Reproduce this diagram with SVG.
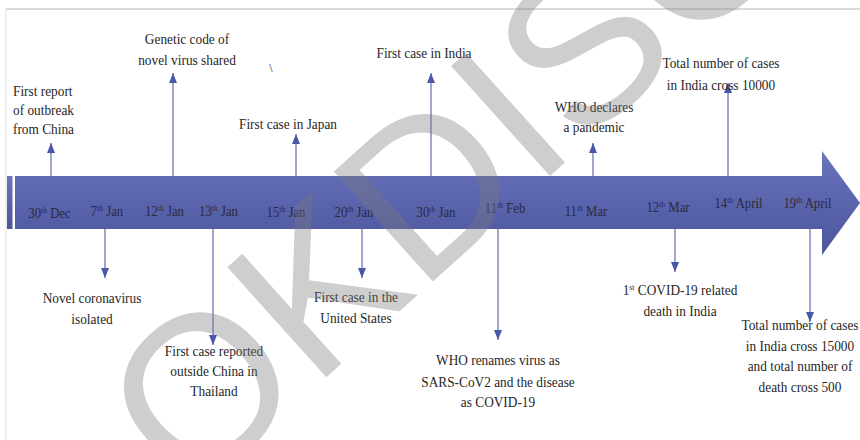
<svg xmlns="http://www.w3.org/2000/svg" width="860" height="440" viewBox="0 0 860 440">
<defs>
<linearGradient id="bodyGrad" x1="0" y1="0" x2="0" y2="1">
<stop offset="0" stop-color="#6b75bb"/>
<stop offset="0.5" stop-color="#5a64ad"/>
<stop offset="1" stop-color="#4b559e"/>
</linearGradient>
<marker id="ah" viewBox="0 0 10 8" markerWidth="10" markerHeight="8" refX="10" refY="4" orient="auto" markerUnits="userSpaceOnUse">
<path d="M0,0 L10,4 L0,8 z" fill="#4a58a8"/>
</marker>
<style>
.lbl{font-family:"Liberation Serif","Times New Roman",serif;font-size:15.5px;fill:#262626;text-anchor:middle}
.lft{text-anchor:start}
.date{font-family:"Liberation Serif","Times New Roman",serif;font-size:15px;fill:#2a2a3a;text-anchor:middle}
.sup{font-size:9px}
.con{stroke:#6e76b6;stroke-width:1.3;fill:none;marker-end:url(#ah)}
.wm{font-family:"Liberation Sans",Arial,sans-serif;font-size:215px;fill:#7a7a7a;opacity:0.36}
</style>
</defs>
<rect x="0" y="0" width="860" height="440" fill="#ffffff"/>
<line x1="6" y1="9" x2="860" y2="9" stroke="#b5b5b5" stroke-width="1"/>
<line x1="6" y1="9" x2="6" y2="440" stroke="#dedede" stroke-width="1"/>

<g id="timeline">
<rect x="7" y="176" width="5.5" height="53" fill="url(#bodyGrad)"/>
<path d="M15,176 L822,176 L822,151 L860,203 L822,255 L822,229 L15,229 z" fill="url(#bodyGrad)"/>
<g transform="translate(49.5,218) scale(0.85,1)"><text class="date" x="0" y="0">30<tspan class="sup" dy="-5">th</tspan><tspan dy="5"> Dec</tspan></text></g>
<g transform="translate(107,216) scale(0.85,1)"><text class="date" x="0" y="0">7<tspan class="sup" dy="-5">th</tspan><tspan dy="5"> Jan</tspan></text></g>
<g transform="translate(164.5,216) scale(0.85,1)"><text class="date" x="0" y="0">12<tspan class="sup" dy="-5">th</tspan><tspan dy="5"> Jan</tspan></text></g>
<g transform="translate(218.5,216) scale(0.85,1)"><text class="date" x="0" y="0">13<tspan class="sup" dy="-5">th</tspan><tspan dy="5"> Jan</tspan></text></g>
<g transform="translate(286,217) scale(0.85,1)"><text class="date" x="0" y="0">15<tspan class="sup" dy="-5">th</tspan><tspan dy="5"> Jan</tspan></text></g>
<g transform="translate(354,217) scale(0.85,1)"><text class="date" x="0" y="0">20<tspan class="sup" dy="-5">th</tspan><tspan dy="5"> Jan</tspan></text></g>
<g transform="translate(436,217) scale(0.85,1)"><text class="date" x="0" y="0">30<tspan class="sup" dy="-5">th</tspan><tspan dy="5"> Jan</tspan></text></g>
<g transform="translate(505,213) scale(0.85,1)"><text class="date" x="0" y="0">11<tspan class="sup" dy="-5">th</tspan><tspan dy="5"> Feb</tspan></text></g>
<g transform="translate(586,216) scale(0.85,1)"><text class="date" x="0" y="0">11<tspan class="sup" dy="-5">th</tspan><tspan dy="5"> Mar</tspan></text></g>
<g transform="translate(668,212) scale(0.85,1)"><text class="date" x="0" y="0">12<tspan class="sup" dy="-5">th</tspan><tspan dy="5"> Mar</tspan></text></g>
<g transform="translate(738.5,208) scale(0.85,1)"><text class="date" x="0" y="0">14<tspan class="sup" dy="-5">th</tspan><tspan dy="5"> April</tspan></text></g>
<g transform="translate(807.5,208) scale(0.85,1)"><text class="date" x="0" y="0">19<tspan class="sup" dy="-5">th</tspan><tspan dy="5"> April</tspan></text></g>
</g>

<g id="connectors">
<line class="con" x1="51" y1="176" x2="51" y2="143"/>
<line class="con" x1="173" y1="176" x2="173" y2="73"/>
<line class="con" x1="296" y1="176" x2="296" y2="134"/>
<line class="con" x1="431" y1="176" x2="431" y2="73"/>
<line class="con" x1="593" y1="176" x2="593" y2="143"/>
<line class="con" x1="728" y1="176" x2="728" y2="83"/>
<line class="con" x1="105" y1="229" x2="105" y2="278"/>
<line class="con" x1="213" y1="229" x2="213" y2="345"/>
<line class="con" x1="362" y1="229" x2="362" y2="278"/>
<line class="con" x1="498" y1="229" x2="498" y2="340"/>
<line class="con" x1="675" y1="229" x2="675" y2="272"/>
<line class="con" x1="810" y1="229" x2="810" y2="322"/>
</g>

<g id="n-first-report" transform="translate(13,0) scale(0.86,1)">
<text class="lbl lft" x="0" y="96">First report</text>
<text class="lbl lft" x="0" y="115">of outbreak</text>
<text class="lbl lft" x="0" y="134">from China</text>
</g>
<g id="n-genetic-code" transform="translate(187,0) scale(0.86,1)">
<text class="lbl" x="0" y="44">Genetic code of</text>
<text class="lbl" x="0" y="65">novel virus shared</text>
</g>
<g id="n-stray-mark">
<text class="lbl" x="271" y="72" style="font-size:12px">\</text>
</g>
<g id="n-japan" transform="translate(288,0) scale(0.86,1)">
<text class="lbl" x="0" y="129">First case in Japan</text>
</g>
<g id="n-india" transform="translate(424,0) scale(0.86,1)">
<text class="lbl" x="0" y="58">First case in India</text>
</g>
<g id="n-pandemic" transform="translate(594,0) scale(0.86,1)">
<text class="lbl" x="0" y="112">WHO declares</text>
<text class="lbl" x="0" y="132">a pandemic</text>
</g>
<g id="n-10000" transform="translate(721,0) scale(0.86,1)">
<text class="lbl" x="0" y="68">Total number of cases</text>
<text class="lbl" x="0" y="90">in India cross 10000</text>
</g>
<g id="n-isolated" transform="translate(92,0) scale(0.86,1)">
<text class="lbl" x="0" y="303">Novel coronavirus</text>
<text class="lbl" x="0" y="324">isolated</text>
</g>
<g id="n-thailand" transform="translate(214,0) scale(0.86,1)">
<text class="lbl" x="0" y="356">First case reported</text>
<text class="lbl" x="0" y="376">outside China in</text>
<text class="lbl" x="0" y="396">Thailand</text>
</g>
<g id="n-us" transform="translate(356,0) scale(0.86,1)">
<text class="lbl" x="0" y="302">First case in the</text>
<text class="lbl" x="0" y="323">United States</text>
</g>
<g id="n-renames" transform="translate(498,0) scale(0.86,1)">
<text class="lbl" x="0" y="365">WHO renames virus as</text>
<text class="lbl" x="0" y="387">SARS-CoV2 and the disease</text>
<text class="lbl" x="0" y="407">as COVID-19</text>
</g>
<g id="n-death" transform="translate(680,0) scale(0.86,1)">
<text class="lbl" x="0" y="295">1<tspan class="sup" dy="-5">st</tspan><tspan dy="5"> COVID-19 related</tspan></text>
<text class="lbl" x="0" y="316">death in India</text>
</g>
<g id="n-15000" transform="translate(800,0) scale(0.86,1)">
<text class="lbl" x="0" y="330">Total number of cases</text>
<text class="lbl" x="0" y="351">in India cross 15000</text>
<text class="lbl" x="0" y="371">and total number of</text>
<text class="lbl" x="0" y="392">death cross 500</text>
</g>

<g id="watermark">
<text class="wm" transform="translate(189,501) rotate(-42)" x="0" y="0">OKDISC</text>
</g>
</svg>
